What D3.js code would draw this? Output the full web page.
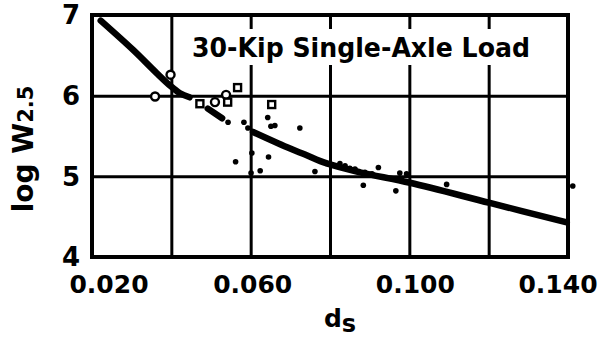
<!DOCTYPE html>
<html lang="en">
<head>
    <meta charset="UTF-8">
    <title>log W2.5 vs ds</title>
    <script src="https://d3js.org/d3.v7.min.js"></script>
    <style>
        body { margin: 0; background: #fff; }
        svg { display: block; }
        text { font-family: "DejaVu Sans", sans-serif; font-weight: bold; fill: #000; }
    </style>
</head>
<body>
<div id="container"></div>
<script>
    // axis values
    const xGrid = [0.04, 0.06, 0.08, 0.10, 0.12];
    const yGrid = [5, 6];
    const xLabelValues = [0.02, 0.06, 0.10, 0.14];
    const xLabels = ['0.020', '0.060', '0.100', '0.140'];
    const yLabelValues = [4, 5, 6, 7];
    const yLabels = ['4', '5', '6', '7'];

    // fitted curve, drawn in two pieces with a short stroke between
    const curveUpperD = [0.0222, 0.0303, 0.0363, 0.0398, 0.0422, 0.0446];
    const curveUpperW = [6.93, 6.57, 6.28, 6.12, 6.03, 5.98];
    const curveMidD = [0.0492, 0.0528];
    const curveMidW = [5.84, 5.72];
    const curveLowerD = [0.0606, 0.0692, 0.0737, 0.0792, 0.0876, 0.1002, 0.1203, 0.1397];
    const curveLowerW = [5.55, 5.36, 5.27, 5.16, 5.05, 4.92, 4.67, 4.43];

    // open circles
    const circleD = [0.0359, 0.0398, 0.0510, 0.0538];
    const circleW = [5.99, 6.26, 5.92, 6.01];

    // open squares
    const squareD = [0.0472, 0.0542, 0.0567, 0.0653];
    const squareW = [5.90, 5.92, 6.10, 5.89];

    // solid dots
    const dotD = [0.0543, 0.0583, 0.0593, 0.0643, 0.0651, 0.0661, 0.0724, 0.0562, 0.0603, 0.0645,
                  0.0624, 0.0601, 0.0762, 0.0792, 0.0825, 0.0838, 0.0850, 0.0863, 0.0888, 0.0906,
                  0.0922, 0.0884, 0.0966, 0.0976, 0.0993, 0.1094, 0.1412];
    const dotW = [5.67, 5.67, 5.60, 5.73, 5.62, 5.63, 5.60, 5.18, 5.29, 5.24,
                  5.07, 5.04, 5.06, 5.16, 5.16, 5.13, 5.10, 5.09, 5.05, 5.03,
                  5.11, 4.89, 4.82, 5.04, 5.03, 4.90, 4.88];

    const title = '30-Kip Single-Axle Load';

    const width = 598, height = 341;
    const plotLeft = 92, plotRight = 568, plotTop = 15, plotBottom = 257;

    const svg = d3.select('#container').append('svg')
        .attr('width', width)
        .attr('height', height);

    const x = d3.scaleLinear().domain([0.02, 0.14]).range([plotLeft, plotRight]);
    const y = d3.scaleLinear().domain([4, 7]).range([plotBottom, plotTop]);

    // grid lines
    svg.append('g')
        .attr('transform', `translate(0,${plotBottom})`)
        .call(d3.axisBottom(x).tickValues(xGrid).tickSize(-(plotBottom - plotTop)).tickFormat(''))
        .call(g => g.select('.domain').remove())
        .call(g => g.selectAll('line').attr('stroke', '#000').attr('stroke-width', 3));

    svg.append('g')
        .attr('transform', `translate(${plotLeft},0)`)
        .call(d3.axisLeft(y).tickValues(yGrid).tickSize(-(plotRight - plotLeft)).tickFormat(''))
        .call(g => g.select('.domain').remove())
        .call(g => g.selectAll('line').attr('stroke', '#000').attr('stroke-width', 3));

    // frame
    svg.append('rect')
        .attr('x', plotLeft).attr('y', plotTop)
        .attr('width', plotRight - plotLeft).attr('height', plotBottom - plotTop)
        .attr('fill', 'none')
        .attr('stroke', '#000')
        .attr('stroke-width', 4);

    // title box with white background over the grid
    svg.append('rect')
        .attr('x', 184).attr('y', 29)
        .attr('width', 352).attr('height', 36)
        .attr('fill', '#fff');
    svg.append('text')
        .attr('x', 192).attr('y', 57)
        .attr('font-size', 26)
        .attr('textLength', 338)
        .attr('lengthAdjust', 'spacingAndGlyphs')
        .text(title);

    // curve
    const line = d3.line()
        .x(d => x(d[0]))
        .y(d => y(d[1]))
        .curve(d3.curveCatmullRom);

    [[curveUpperD, curveUpperW], [curveMidD, curveMidW], [curveLowerD, curveLowerW]].forEach(c => {
        svg.append('path')
            .datum(c[0].map((d, i) => [d, c[1][i]]))
            .attr('d', line)
            .attr('fill', 'none')
            .attr('stroke', '#000')
            .attr('stroke-width', 6.5)
            .attr('stroke-linecap', 'round');
    });

    // dots
    svg.selectAll('.dot')
        .data(dotD.map((d, i) => [d, dotW[i]]))
        .enter()
        .append('circle')
        .attr('class', 'dot')
        .attr('cx', d => x(d[0]))
        .attr('cy', d => y(d[1]))
        .attr('r', 2.8)
        .attr('fill', '#000');

    // open circles
    svg.selectAll('.ocircle')
        .data(circleD.map((d, i) => [d, circleW[i]]))
        .enter()
        .append('circle')
        .attr('class', 'ocircle')
        .attr('cx', d => x(d[0]))
        .attr('cy', d => y(d[1]))
        .attr('r', 4)
        .attr('fill', '#fff')
        .attr('stroke', '#000')
        .attr('stroke-width', 2.4);

    // open squares
    svg.selectAll('.osquare')
        .data(squareD.map((d, i) => [d, squareW[i]]))
        .enter()
        .append('rect')
        .attr('class', 'osquare')
        .attr('x', d => x(d[0]) - 3.5)
        .attr('y', d => y(d[1]) - 3.5)
        .attr('width', 7)
        .attr('height', 7)
        .attr('fill', '#fff')
        .attr('stroke', '#000')
        .attr('stroke-width', 2.4);

    // x tick labels (nudged a little like the original lettering)
    const xNudge = [17, 2, 6, -10];
    svg.selectAll('.xlab')
        .data(xLabelValues)
        .enter()
        .append('text')
        .attr('class', 'xlab')
        .attr('x', (d, i) => x(d) + xNudge[i])
        .attr('y', 293)
        .attr('text-anchor', 'middle')
        .attr('font-size', 25)
        .text((d, i) => xLabels[i]);

    // y tick labels
    svg.selectAll('.ylab')
        .data(yLabelValues)
        .enter()
        .append('text')
        .attr('class', 'ylab')
        .attr('x', 80)
        .attr('y', d => y(d))
        .attr('dy', '0.36em')
        .attr('text-anchor', 'end')
        .attr('font-size', 26)
        .text((d, i) => yLabels[i]);

    // axis titles
    const xt = svg.append('text')
        .attr('x', 340).attr('y', 327)
        .attr('text-anchor', 'middle')
        .attr('font-size', 25);
    xt.append('tspan').text('d');
    xt.append('tspan').attr('dy', 5).attr('font-size', 24).text('s');

    const yt = svg.append('text')
        .attr('transform', 'translate(33,149) rotate(-90)')
        .attr('text-anchor', 'middle')
        .attr('font-size', 28);
    yt.append('tspan').text('log W');
    yt.append('tspan').attr('font-size', 21).text('2.5');
</script>
</body>
</html>
